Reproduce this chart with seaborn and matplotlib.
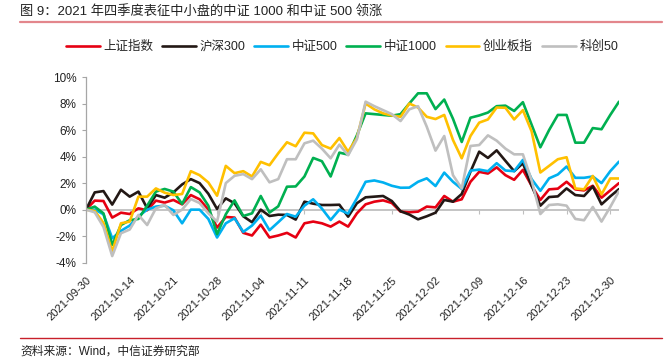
import numpy as np
import pandas as pd
import matplotlib
matplotlib.use('Agg')
import matplotlib.pyplot as plt
from matplotlib.lines import Line2D
from matplotlib.ticker import FuncFormatter
import seaborn as sns

# ---------------- data (cumulative return, %) ----------------
series_names = ['上证指数', '沪深300', '中证500', '中证1000', '创业板指', '科创50']
series_colors = ['#E60012', '#231815', '#00B0F0', '#00B050', '#FFC000', '#BFBFBF']

tick_labels = ['2021-09-30', '2021-10-14', '2021-10-21', '2021-10-28', '2021-11-04',
               '2021-11-11', '2021-11-18', '2021-11-25', '2021-12-02', '2021-12-09',
               '2021-12-16', '2021-12-23', '2021-12-30']

sh_index = [0, 0.68, 0.65, -0.6, -0.23, -0.33, 0.1, -0.05, 0.68, 0.53,
            0.73, 0.4, 1.1, 0.78, 0.0, -1.35, -0.55, -0.6, -1.75, -1.95,
            -1.13, -2.1, -1.95, -1.75, -2.1, -1.03, -0.9, -1.03, -1.28, -0.9,
            -1.28, -0.28, 0.4, 0.6, 0.7, 0.5, -0.15, -0.2, -0.15, 0.23,
            0.17, 1.03, 0.6, 0.78, 2.1, 2.85, 2.72, 3.19, 2.6, 2.25,
            3.0, 1.8, 0.73, 1.53, 1.58, 2.1, 1.53, 1.45, 1.8, 0.9,
            1.45, 2.0]
hs300 = [0, 1.3, 1.4, 0.38, 1.5, 0.98, 1.36, 0.1, 1.1, 0.9,
         1.3, 1.9, 2.3, 2.0, 1.2, 0.05, 0.85, 0.48, -0.5, -0.95,
         0.0, -0.48, -0.38, -0.4, -0.75, 0.6, 0.45, 0.35, 0.35, 0.37,
         -0.53, 0.48, 0.93, 0.98, 1.03, 0.65, -0.12, -0.37, -0.73, -0.5,
         -0.23, 0.73, 0.6, 1.18, 2.86, 4.37, 3.9, 4.47, 3.68, 2.9,
         3.5, 1.8, 0.3, 0.95, 1.0, 1.6, 1.1, 1.03, 1.75, 0.4,
         1.0, 1.55]
zz500 = [0, 0.0, -0.35, -2.16, -1.6, -1.2, -0.5, 0.0, 0.23, 0.3,
         -0.05, -1.03, 0.0, 0.0, -0.7, -2.1, -1.03, -0.65, -1.68, -1.2,
         -0.45, -1.55, -0.95, -0.33, -0.53, 0.3, 0.78, 0.08, -0.78, 0.0,
         -0.3, 0.85, 2.1, 2.2, 2.05, 1.8, 1.65, 1.66, 2.1, 2.36,
         1.78, 2.79, 2.1, 1.56, 2.94, 3.02, 2.9, 3.5, 2.95, 2.9,
         3.75, 2.3, 1.42, 2.36, 2.65, 3.25, 2.4, 2.4, 2.5, 2.0,
         2.9, 3.62]
zz1000 = [0, 0.23, -0.28, -2.66, -1.16, -0.8, -0.7, 0.3, 1.36, 1.56,
          1.36, 0.43, 1.7, 1.3, 0.3, -1.85, -0.35, 0.7, -0.48, -0.28,
          1.03, -0.22, 0.25, 1.73, 1.75, 2.5, 3.9, 3.65, 2.5, 4.3,
          4.15, 5.6, 7.26, 7.2, 7.14, 7.08, 7.2, 8.0, 8.77, 8.77,
          7.58, 8.3, 6.85, 5.1, 6.93, 7.1, 7.32, 7.8, 7.84, 7.44,
          8.1, 6.4, 4.7, 6.0, 7.14, 7.14, 5.05, 5.05, 6.15, 6.06,
          7.14, 8.14]
cyb = [0, -0.1, -1.0, -3.17, -1.03, -0.9, 0.98, 0.98, 1.6, 1.28,
       1.1, 1.18, 2.9, 2.6, 2.05, 1.05, 3.3, 2.75, 2.9, 2.5,
       3.6, 3.35, 4.25, 5.08, 4.78, 5.8, 5.75, 4.87, 4.6, 5.4,
       4.37, 5.4, 8.0, 7.56, 7.26, 7.1, 7.0, 8.0, 7.7, 7.0,
       6.83, 7.14, 5.25, 3.87, 5.55, 6.56, 6.8, 7.7, 7.68, 6.8,
       7.5, 5.9, 2.8, 3.3, 3.8, 3.95, 1.6, 1.53, 2.54, 1.15,
       2.35, 2.35]
kc50 = [0, -0.2, -1.3, -3.5, -1.78, -1.5, -0.4, -1.16, 0.1, 0.35,
        -0.4, 0.0, 0.8, 0.5, -0.28, -0.9, 2.0, 2.55, 2.68, 2.3,
        3.04, 2.06, 2.3, 3.8, 3.8, 5.0, 5.2, 4.6, 3.87, 4.9,
        4.1, 5.3, 8.14, 7.8, 7.5, 7.2, 6.68, 7.56, 7.8, 6.25,
        4.45, 5.55, 2.6, 1.6, 4.8, 4.87, 5.6, 5.2, 4.6, 4.17,
        4.17, 2.2, -0.33, 0.35, 0.4, 0.3, -0.7, -0.8, 0.2, -0.9,
        0.2, 1.4]

all_values = [sh_index, hs300, zz500, zz1000, cyb, kc50]
n = len(sh_index)
day_idx = np.arange(n)
df = pd.DataFrame({
    'day': np.tile(day_idx, len(series_names)),
    'value': np.concatenate([np.asarray(v, dtype=float) for v in all_values]),
    'series': np.repeat(series_names, n),
})

# ---------------- style ----------------
sns.set_style('white')
plt.rcParams['font.family'] = ['Liberation Sans', 'Noto Sans CJK SC', 'DejaVu Sans']
plt.rcParams['axes.unicode_minus'] = False

W, H = 665, 361
fig = plt.figure(figsize=(W / 100, H / 100), dpi=100)
fig.patch.set_facecolor('white')

ax_left, ax_right, ax_top, ax_bottom = 86, 619, 77, 262.7
ax = fig.add_axes([ax_left / W, 1 - ax_bottom / H, (ax_right - ax_left) / W, (ax_bottom - ax_top) / H])

ax.axhline(0, color='#BFBFBF', lw=1.3, zorder=0.5)
sns.lineplot(data=df, x='day', y='value', hue='series', hue_order=series_names,
             palette=dict(zip(series_names, series_colors)), linewidth=1.9,
             ax=ax, legend=True, sort=False)

ax.set_xlim(0, n - 1)
ax.set_ylim(-4, 10)
ax.set_yticks(np.arange(-4, 11, 2))
ax.yaxis.set_major_formatter(FuncFormatter(lambda v, p: f'{v:.0f}%'))
ax.set_xlabel('')
ax.set_ylabel('')

tick_pos = day_idx[::5]
ax.set_xticks(tick_pos)
ax.set_xticklabels(tick_labels, rotation=45, ha='right', va='top',
                   rotation_mode='anchor', fontsize=8, color='#222222')
ax.tick_params(axis='x', length=0, pad=9)
ax.tick_params(axis='y', length=3, width=0.8, color='#A6A6A6', pad=4,
               labelsize=8.5, labelcolor='#222222', direction='out', left=True)

for s in ['top', 'right', 'bottom']:
    ax.spines[s].set_visible(False)
ax.spines['left'].set_color('#A6A6A6')
ax.spines['left'].set_linewidth(0.9)
ax.grid(False)

# category-axis tick marks on the zero line
sec = ax.secondary_xaxis(4 / 14)
sec.set_xticks(tick_pos)
sec.tick_params(axis='x', length=3, width=0.8, color='#BFBFBF', labelbottom=False,
                labeltop=False, direction='out')
for s in sec.spines.values():
    s.set_visible(False)

# legend
handles, labels = ax.get_legend_handles_labels()
ax.get_legend().remove()
fig.legend(handles, labels, loc='center', bbox_to_anchor=(342 / W, 1 - 47 / H),
           ncol=6, frameon=False, fontsize=9, handlelength=2.7, handletextpad=0.3,
           columnspacing=0.7)

# title, rules and source
fig.text(20 / W, 1 - 12 / H, '图 9：2021 年四季度表征中小盘的中证 1000 和中证 500 领涨',
         fontsize=9.5, ha='left', va='center', color='#222222')
fig.add_artist(Line2D([20 / W, 662 / W], [1 - 22 / H, 1 - 22 / H], color='#E3868C',
                      lw=1.6, transform=fig.transFigure))
fig.add_artist(Line2D([20 / W, 662 / W], [1 - 338 / H, 1 - 338 / H], color='#C8202A',
                      lw=1.0, transform=fig.transFigure))
fig.text(20 / W, 1 - 352 / H, '资料来源：Wind，中信证券研究部', fontsize=8.5,
         ha='left', va='center', color='#222222')

fig.savefig('out.png', dpi=100, facecolor='white')
